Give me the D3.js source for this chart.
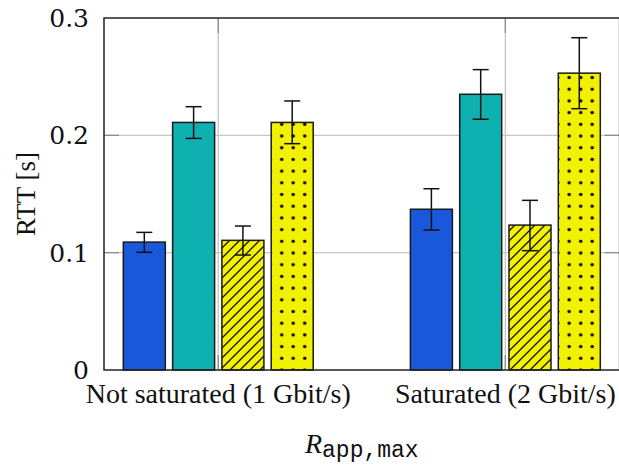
<!DOCTYPE html>
<html><head><meta charset="utf-8">
<script src="https://cdn.jsdelivr.net/npm/d3@7"></script>
<style>body{margin:0;background:#fff}svg{display:block}</style>
</head><body>
<svg id="chart" width="619" height="465"></svg>
<script>
const categories = ["Not saturated (1 Gbit/s)", "Saturated (2 Gbit/s)"];
const series = ["s1", "s2", "s3", "s4"];
const values = {
  s1: [0.109, 0.137],
  s2: [0.211, 0.235],
  s3: [0.1105, 0.1235],
  s4: [0.211, 0.253]
};
const errLow = {
  s1: [0.1003, 0.1193],
  s2: [0.1974, 0.2137],
  s3: [0.098, 0.1017],
  s4: [0.1929, 0.2227]
};
const errHigh = {
  s1: [0.1173, 0.1545],
  s2: [0.2244, 0.256],
  s3: [0.1227, 0.1446],
  s4: [0.2293, 0.2832]
};
const yTicks = [0, 0.1, 0.2, 0.3];
const yTickLabels = ["0", "0.1", "0.2", "0.3"];

const svg = d3.select("#chart");
const L = 104, R = 619.6, T = 18, B = 370;

const defs = svg.append("defs");
const hatch = defs.append("pattern").attr("id", "hatch").attr("patternUnits", "userSpaceOnUse")
  .attr("width", 10).attr("height", 10);
hatch.append("rect").attr("width", 10).attr("height", 10).attr("fill", "#f2f200");
hatch.append("path").attr("d", "M-1,11 L11,-1 M-6,6 L6,-6 M4,16 L16,4")
  .attr("stroke", "#111").attr("stroke-width", 1.3);
const dots = defs.append("pattern").attr("id", "dots").attr("patternUnits", "userSpaceOnUse")
  .attr("width", 11.5).attr("height", 11.7);
dots.append("rect").attr("width", 11.5).attr("height", 11.7).attr("fill", "#f2f200");
dots.append("circle").attr("cx", 5.7).attr("cy", 7.3).attr("r", 1.7).attr("fill", "#000");

const fills = {s1: "#1a58db", s2: "#0fb0b0", s3: "url(#hatch)", s4: "url(#dots)"};

const x = d3.scalePoint().domain(categories).range([L, R]).padding(0.398);
const xs = d3.scaleBand().domain(series).range([-98.6, 98.6]).paddingInner(0.148).paddingOuter(0.074);
const y = d3.scaleLinear().domain([0, 0.3]).range([B, T]);

// grid
const grid = svg.append("g");
grid.selectAll(".hg").data(yTicks.filter(t => t > 0 && t < 0.3)).join("line")
  .attr("x1", L).attr("x2", R).attr("y1", d => y(d)).attr("y2", d => y(d))
  .attr("stroke", "#c6c6c6").attr("stroke-width", 1.3);
grid.selectAll(".vg").data(categories).join("line")
  .attr("x1", d => x(d)).attr("x2", d => x(d)).attr("y1", T).attr("y2", B)
  .attr("stroke", "#c6c6c6").attr("stroke-width", 1.3);
// ticks (inner)
const tk = svg.append("g").attr("stroke", "#8e8e8e").attr("stroke-width", 1.3);
yTicks.filter(t => t > 0 && t < 0.3).forEach(t => {
  tk.append("line").attr("x1", L).attr("x2", L + 15).attr("y1", y(t)).attr("y2", y(t));
  tk.append("line").attr("x1", R - 15).attr("x2", R).attr("y1", y(t)).attr("y2", y(t));
});
categories.forEach(c => {
  tk.append("line").attr("x1", x(c)).attr("x2", x(c)).attr("y1", T).attr("y2", T + 15);
  tk.append("line").attr("x1", x(c)).attr("x2", x(c)).attr("y1", B - 15).attr("y2", B);
});

// bars
const rows = [];
categories.forEach((c, i) => series.forEach(s => rows.push({c, s, v: values[s][i], lo: errLow[s][i], hi: errHigh[s][i]})));
svg.append("g").selectAll("rect").data(rows).join("rect")
  .attr("x", d => x(d.c) + xs(d.s)).attr("width", xs.bandwidth())
  .attr("y", d => y(d.v)).attr("height", d => B - y(d.v))
  .attr("fill", d => fills[d.s]).attr("stroke", "#1a1a1a").attr("stroke-width", 1.5);

// error bars
const eg = svg.append("g").attr("stroke", "#111").attr("stroke-width", 1.5);
rows.forEach(d => {
  const cx = x(d.c) + xs(d.s) + xs.bandwidth() / 2;
  eg.append("line").attr("x1", cx).attr("x2", cx).attr("y1", y(d.lo)).attr("y2", y(d.hi));
  eg.append("line").attr("x1", cx - 8).attr("x2", cx + 8).attr("y1", y(d.lo)).attr("y2", y(d.lo));
  eg.append("line").attr("x1", cx - 8).attr("x2", cx + 8).attr("y1", y(d.hi)).attr("y2", y(d.hi));
});

// frame
svg.append("rect").attr("x", L).attr("y", T).attr("width", R - L).attr("height", B - T)
  .attr("fill", "none").attr("stroke", "#222").attr("stroke-width", 1.5);

// y tick labels
svg.append("g").selectAll("text").data(yTicks).join("text")
  .attr("x", 89).attr("y", d => y(d)).attr("dy", "0.36em").attr("text-anchor", "end")
  .attr("font-family", "DejaVu Serif").attr("font-size", 25).attr("fill", "#111")
  .text((d, i) => yTickLabels[i]);

// category labels
svg.append("g").selectAll("text").data(categories).join("text")
  .attr("x", d => x(d)).attr("y", 403).attr("text-anchor", "middle")
  .attr("font-family", "Liberation Serif").attr("font-size", 28).attr("fill", "#111")
  .text(d => d);

// y axis title
svg.append("text").attr("transform", `translate(35,${(T + B) / 2}) rotate(-90)`)
  .attr("text-anchor", "middle").attr("font-family", "Liberation Serif").attr("font-size", 27)
  .attr("fill", "#111").text("RTT [s]");

// x axis title
const xt = svg.append("text").attr("x", (L + R) / 2).attr("y", 453).attr("text-anchor", "middle").attr("fill", "#111");
xt.append("tspan").attr("font-family", "Liberation Serif").attr("font-style", "italic").attr("font-size", 28).text("R");
xt.append("tspan").attr("font-family", "Liberation Mono").attr("font-size", 23).attr("dy", 4).text("app,max");
</script>
</body></html>
